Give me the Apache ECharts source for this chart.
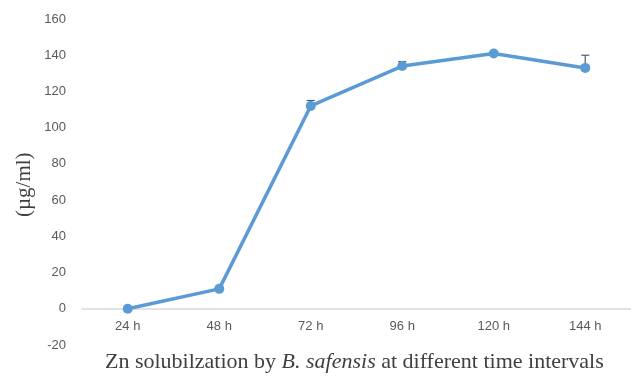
<!DOCTYPE html>
<html><head><meta charset="utf-8">
<script src="https://cdn.jsdelivr.net/npm/echarts@6/dist/echarts.min.js"></script>
<style>html,body{margin:0;padding:0;background:#fff}#c{width:631px;height:377px}</style>
</head><body><div id="c"></div>
<script>
const categories = ['24 h','48 h','72 h','96 h','120 h','144 h'];
const values = [0, 11, 112, 134, 141, 133];
const errors = [0, 0, 3, 2.5, 1, 7];
const yTicks = {min: -20, max: 160, interval: 20};

const chart = echarts.init(document.getElementById('c'));
chart.setOption({
  animation: false,
  grid: {left: 82, right: 0, top: 19, bottom: 32, outerBoundsMode: 'none', containLabel: false},
  xAxis: {
    type: 'category', data: categories,
    axisLine: {onZero: true, lineStyle: {color: '#D9D9D9', width: 1.5}},
    axisTick: {show: false},
    axisLabel: {color: '#595959', fontFamily: 'Liberation Sans', fontSize: 13, margin: -25}
  },
  yAxis: {
    type: 'value', min: yTicks.min, max: yTicks.max, interval: yTicks.interval,
    axisLine: {show: false}, axisTick: {show: false},
    splitLine: {show: false},
    axisLabel: {color: '#595959', fontFamily: 'Liberation Sans', fontSize: 13, margin: 16}
  },
  graphic: [
    {type: 'text', left: 105, top: 351, style: {
      text: '{n|Zn solubilzation by }{i|B. safensis}{n| at different time intervals}',
      rich: {
        n: {fontFamily: 'Liberation Serif', fontSize: 22, fill: '#404040'},
        i: {fontFamily: 'Liberation Serif', fontSize: 22, fill: '#404040', fontStyle: 'italic'}
      }
    }},
    {type: 'text', rotation: Math.PI / 2, x: 14, y: 217, style: {
      text: '(µg/ml)', fontFamily: 'Liberation Serif', fontSize: 21, fill: '#404040'
    }}
  ],
  series: [
    {
      type: 'custom', z: 1,
      data: categories.map((c, i) => [i, values[i], errors[i]]),
      renderItem: function (params, api) {
        const e = api.value(2);
        if (!e) return null;
        const p0 = api.coord([api.value(0), api.value(1)]);
        const p1 = api.coord([api.value(0), api.value(1) + e]);
        const style = {stroke: '#595959', lineWidth: 1.2};
        return {type: 'group', children: [
          {type: 'line', shape: {x1: p0[0], y1: p0[1], x2: p1[0], y2: p1[1]}, style: style},
          {type: 'line', shape: {x1: p1[0] - 4, y1: p1[1], x2: p1[0] + 4, y2: p1[1]}, style: style}
        ]};
      }
    },
    {
      type: 'line', data: values, z: 2,
      symbol: 'circle', symbolSize: 10,
      lineStyle: {color: '#5B9BD5', width: 3.5},
      itemStyle: {color: '#5B9BD5'}
    }
  ]
});
</script></body></html>
